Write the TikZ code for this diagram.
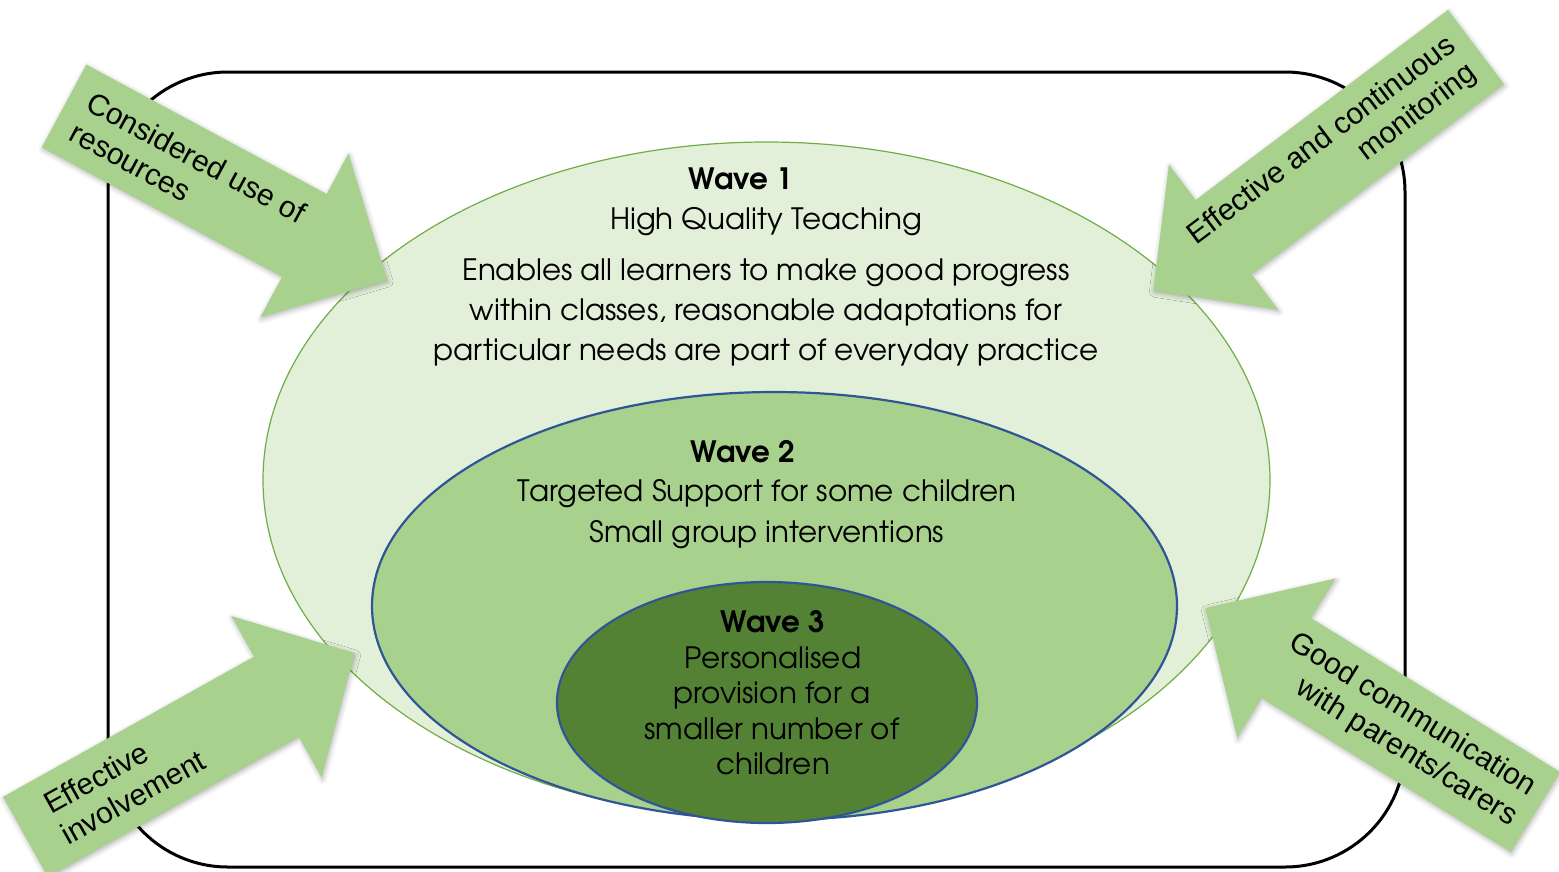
\documentclass[tikz,border=0pt]{standalone}
\usepackage{fontspec}
\setmainfont{Liberation Sans}
\newfontfamily\gothic{texgyreadventor}[Extension=.otf, UprightFont=*-regular, BoldFont=*-bold]
\usetikzlibrary{shapes.geometric,shadows.blur}

\definecolor{paleg}{RGB}{226,240,217}
\definecolor{midg}{RGB}{169,209,142}
\definecolor{darkg}{RGB}{84,130,53}
\definecolor{rimg}{RGB}{112,173,71}
\definecolor{rimb}{RGB}{47,85,151}

% block arrow pointing along +x from the tail at the origin:
% #1 length, #2 half body width, #3 head length, #4 half head width
\newcommand\arrowshape[4]{%
  \fill[arrowbody] (0,-#2) -- ({#1-#3},-#2) -- ({#1-#3},-#4) -- (#1,0)
    -- ({#1-#3},#4) -- ({#1-#3},#2) -- (0,#2) -- cycle;}

\tikzset{
  frame/.style={draw=black, line width=3pt, rounded corners=120pt},
  wave/.style={ellipse, inner sep=0pt},
  wavetext/.style={font=\gothic\fontsize{29.4}{35}\selectfont, inner sep=0pt, text=black, anchor=base},
  wavehead/.style={wavetext, font=\gothic\bfseries\fontsize{29.4}{35}\selectfont},
  arrowbody/.style={fill=midg, blur shadow={shadow xshift=1pt, shadow yshift=-2pt,
      shadow blur radius=5pt, shadow opacity=30}},
  arrowtext/.style={font=\fontsize{30}{35}\selectfont, inner sep=0pt, text=black, transform shape},
}

\begin{document}
\begin{tikzpicture}[x=1pt, y=-1pt]
\useasboundingbox (0,0) rectangle (1559,871);
\clip (0,0) rectangle (1559,871);

% outer frame
\draw[frame] (108,72) rectangle (1405,867);

% the three waves
\node[wave, fill=paleg, draw=rimg, line width=1.2pt, minimum width=1007pt, minimum height=676pt] (w1) at (766.5,480) {};
\node[wave, fill=midg, draw=rimb, line width=2.2pt, minimum width=805pt, minimum height=428pt] (w2) at (774.5,606) {};
\node[wave, fill=darkg, draw=rimb, line width=2.2pt, minimum width=420pt, minimum height=241pt] (w3) at (767,702.5) {};

% wave 1 text
\node[wavehead] (w1h) at (741,189) {Wave 1};
\node[wavetext] (w1s) at (766,229) {High Quality Teaching};
\node[wavetext] (w1a) at (766,280) {Enables all learners to make good progress};
\node[wavetext] (w1b) at (766,320) {within classes, reasonable adaptations for};
\node[wavetext] (w1c) at (766,360) {particular needs are part of everyday practice};

% wave 2 text
\node[wavehead] (w2h) at (743,462) {Wave 2};
\node[wavetext] (w2a) at (767,501) {Targeted Support for some children};
\node[wavetext] (w2b) at (767,542) {Small group interventions};

% wave 3 text
\node[wavehead] (w3h) at (773,632) {Wave 3};
\node[wavetext] (w3a) at (773,668) {Personalised};
\node[wavetext] (w3b) at (772,703) {provision for a};
\node[wavetext] (w3c) at (772,739) {smaller number of};
\node[wavetext] (w3d) at (773,774) {children};

% arrows pointing at the waves
\begin{scope}[shift={(64,106)}, rotate=-28.3]
  \arrowshape{367}{47}{94}{93}
  \node[arrowtext, anchor=west, align=left] (a1) at (19,0) {Considered use of\\resources};
\end{scope}

\begin{scope}[shift={(1476,47)}, rotate=217]
  \arrowshape{404}{46.5}{88}{91}
  \node[arrowtext, rotate=180, anchor=east, align=right] (a2) at (16,0) {Effective and continuous\\monitoring};
\end{scope}

\begin{scope}[shift={(25.5,837)}, rotate=29.2]
  \arrowshape{377}{46}{89.5}{92.5}
  \node[arrowtext, anchor=west, align=left] (a3) at (33,0) {Effective\\involvement};
\end{scope}

\begin{scope}[shift={(1535.5,812)}, rotate=148.3]
  \arrowshape{388}{47}{95}{93.5}
  \node[arrowtext, rotate=180, anchor=east, align=right] (a4) at (14,0) {Good communication\\with parents/carers};
\end{scope}
\end{tikzpicture}
\end{document}
